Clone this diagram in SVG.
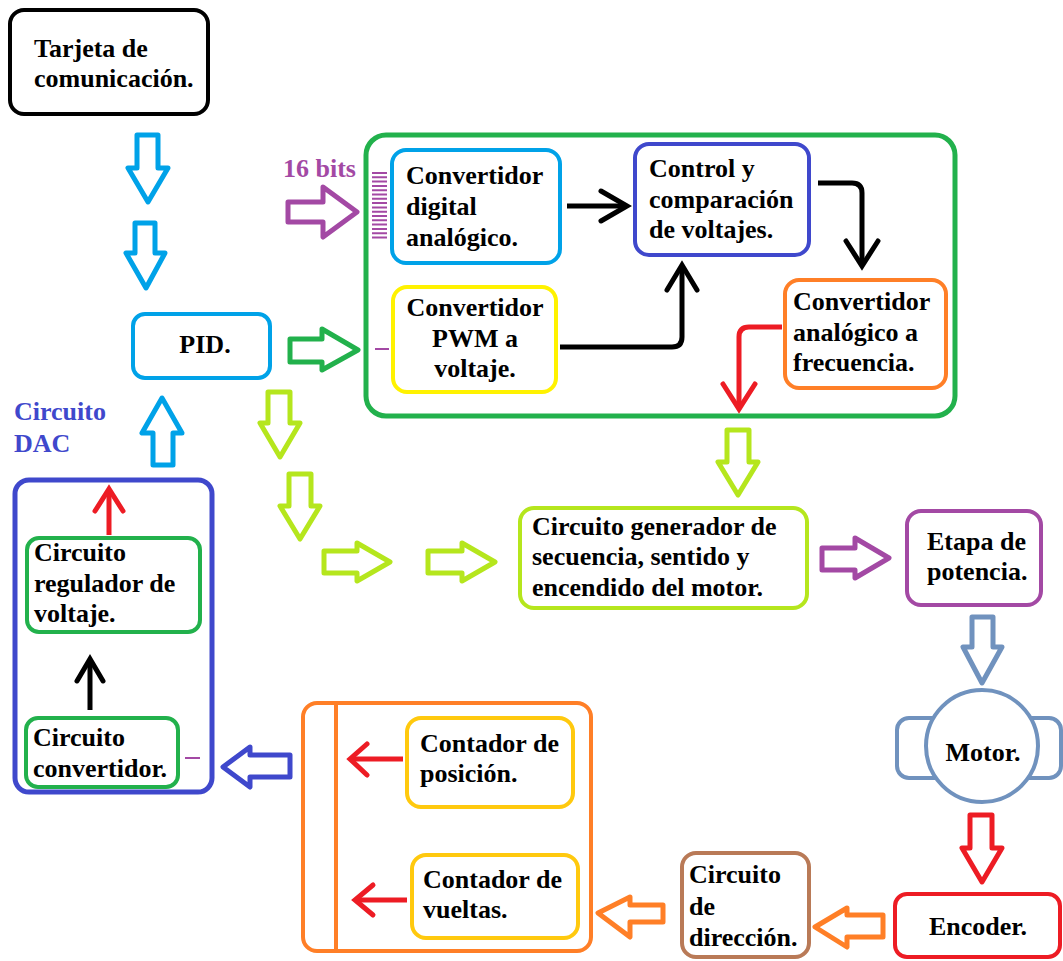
<svg xmlns="http://www.w3.org/2000/svg" width="1063" height="961" viewBox="0 0 1063 961">
<defs>
<style>
text{font-family:'Liberation Serif','Times New Roman',Tinos,'DejaVu Serif',serif;font-weight:700;font-size:26px;fill:#000}
.box{fill:#fff;stroke-width:4}
.ha{fill:#fff;stroke-width:5;stroke-linejoin:round}
.ln{fill:none;stroke-width:5;stroke-linecap:butt;stroke-linejoin:round}
.hd{fill:none;stroke-width:5;stroke-linecap:round;stroke-linejoin:miter}
.cy{stroke:#00A2E8}.gr{stroke:#22B14C}.in{stroke:#3F48CC}.pu{stroke:#A349A4}.or{stroke:#FF7F27}
.rd{stroke:#ED1C24}.ye{stroke:#FFF200}.li{stroke:#B5E61D}.bg{stroke:#7092BE}.br{stroke:#B97A57}.go{stroke:#FFC90E}.bk{stroke:#000}
</style>
</defs>
<rect width="1063" height="961" fill="#fff"/>
<g font-family="Liberation Serif, serif" font-weight="bold" font-size="26">

<g id="tarjeta"><rect class="box bk" x="10" y="10" width="198" height="104" rx="14"/><text x="34" y="57">Tarjeta de</text><text x="34" y="87">comunicación.</text></g>

<g id="pid"><rect class="box cy" x="133" y="314" width="137" height="64" rx="12"/><text x="205" y="353" text-anchor="middle">PID.</text></g>

<g id="dac-label"><text x="14" y="420" style="fill:#3F48CC">Circuito</text><text x="14" y="452" style="fill:#3F48CC">DAC</text></g>

<g id="dac"><rect class="box in" x="15" y="480" width="197" height="312" rx="14" style="stroke-width:5"/></g>

<g id="regulador"><rect class="box gr" x="27" y="538" width="173" height="94" rx="12"/><text x="34" y="561">Circuito</text><text x="34" y="592">regulador de</text><text x="34" y="622">voltaje.</text></g>

<g id="convertidor"><rect class="box gr" x="26" y="718" width="152" height="69" rx="12"/><text x="33" y="746">Circuito</text><text x="33" y="777">convertidor.</text></g>

<g id="sistema"><rect class="box gr" x="366" y="135" width="589" height="281" rx="20" style="stroke-width:5"/></g>

<g id="dac-conv"><rect class="box cy" x="392" y="150" width="168" height="113" rx="14"/><text x="406" y="184">Convertidor</text><text x="406" y="215">digital</text><text x="406" y="246">analógico.</text></g>

<g id="bits-label"><text x="283" y="177" style="fill:#A349A4">16 bits</text>
<path d="M372 173H387M372 177.3H387M372 181.6H387M372 185.9H387M372 190.2H387M372 194.5H387M372 198.8H387M372 203.1H387M372 207.4H387M372 211.7H387M372 216H387M372 220.3H387M372 224.6H387M372 228.9H387M372 233.2H387M372 237.5H387" stroke="#A349A4" stroke-width="2"/></g>

<g id="pwm"><rect class="box ye" x="393" y="287" width="163" height="105" rx="14"/><text x="475" y="316" text-anchor="middle">Convertidor</text><text x="475" y="347" text-anchor="middle">PWM a</text><text x="475" y="377" text-anchor="middle">voltaje.</text></g>

<g id="control"><rect class="box in" x="635" y="144" width="174" height="111" rx="14"/><text x="649" y="177">Control y</text><text x="649" y="208">comparación</text><text x="649" y="238">de voltajes.</text></g>

<g id="freq"><rect class="box or" x="785" y="280" width="161" height="108" rx="14"/><text x="793" y="310">Convertidor</text><text x="793" y="341">analógico a</text><text x="793" y="371">frecuencia.</text></g>

<g id="generador"><rect class="box li" x="520" y="508" width="287" height="100" rx="14"/><text x="532" y="535">Circuito generador de</text><text x="532" y="565">secuencia, sentido y</text><text x="532" y="596">encendido del motor.</text></g>

<g id="etapa"><rect class="box pu" x="907" y="511" width="134" height="94" rx="14"/><text x="927" y="550">Etapa de</text><text x="927" y="580">potencia.</text></g>

<g id="motor"><rect class="box bg" x="897" y="718" width="60" height="60" rx="12"/><rect class="box bg" x="1005" y="718" width="56" height="60" rx="12"/><circle class="box bg" cx="982" cy="746" r="56"/><text x="983" y="761" text-anchor="middle">Motor.</text></g>

<g id="encoder"><rect class="box rd" x="895" y="894" width="165" height="63" rx="12"/><text x="978" y="935" text-anchor="middle">Encoder.</text></g>

<g id="direccion"><rect class="box br" x="682" y="853" width="127" height="104" rx="14"/><text x="689" y="883">Circuito</text><text x="689" y="915">de</text><text x="689" y="946">dirección.</text></g>

<g id="contadores"><rect class="box or" x="303" y="703" width="288" height="248" rx="14"/><line x1="336" y1="703" x2="336" y2="951" class="or" stroke-width="4"/></g>

<g id="posicion"><rect class="box go" x="407" y="718" width="166" height="89" rx="14"/><text x="420" y="752">Contador de</text><text x="420" y="782">posición.</text></g>

<g id="vueltas"><rect class="box go" x="412" y="855" width="166" height="83" rx="14"/><text x="423" y="888">Contador de</text><text x="423" y="918">vueltas.</text></g>

<g id="connectors">
<path class="ha cy" d="M137 135H158V168H168L148 202L128 168H137Z"/>
<path class="ha cy" d="M135 223H155V253H165L146 288L126 253H135Z"/>
<path class="ha cy" d="M153 465H173V433H182L162 398L142 433H153Z"/>
<path class="ha pu" d="M288 202H323V187L357 212L323 237V222H288Z"/>
<path class="ha gr" d="M290 339H322V329L358 350L322 370V362H290Z"/>
<line x1="375" y1="349" x2="389" y2="349" class="pu" stroke-width="2"/>
<line x1="185" y1="758" x2="200" y2="758" class="pu" stroke-width="2"/>
<path class="ha li" d="M268 392H290V423H300L280 457L260 423H268Z"/>
<path class="ha li" d="M289 474H311V506H320L300 539L280 506H289Z"/>
<path class="ha li" d="M324 551H357V543L390 562L357 581V573H324Z"/>
<path class="ha li" d="M428 551H462V543L495 562L462 581V573H428Z"/>
<path class="ha li" d="M727 430H749V462H758L738 495L718 462H727Z"/>
<path class="ha pu" d="M822 548H855V538L889 558L855 578V570H822Z"/>
<path class="ha bg" d="M972 617H993V647H1002L982 683L963 647H972Z"/>
<path class="ha rd" d="M970 815H992V848H1002L982 882L962 848H970Z"/>
<path class="ha or" d="M883 915H847V908L815 927L847 947V937H883Z"/>
<path class="ha or" d="M663 905H630V897L598 913L630 937V922H663Z"/>
<path class="ha in" d="M290 755H250V747L223 767L250 787V777H290Z"/>
<path class="ln bk" d="M567 206H626"/><path class="hd bk" d="M601 191L627 206L601 221"/>
<path class="ln bk" d="M560 347H672Q682 347 682 337V266"/><path class="hd bk" d="M667 290L682 265L697 290"/>
<path class="ln bk" d="M818 183H852Q862 183 862 193V265"/><path class="hd bk" d="M846 241L862 266L878 241"/>
<path class="ln rd" d="M782 327H749Q739 327 739 337V408"/><path class="hd rd" d="M723 384L739 409L755 384"/>
<path class="ln rd" d="M109 535V490"/><path class="hd rd" d="M95 511L109 489L123 511"/>
<path class="ln bk" d="M90 710V660"/><path class="hd bk" d="M77 681L90 659L103 681"/>
<path class="ln rd" d="M403 759H351"/><path class="hd rd" d="M367 744L350 759L367 775"/>
<path class="ln rd" d="M407 900H356"/><path class="hd rd" d="M373 885L355 900L373 915"/>
</g>
</g>
</svg>
